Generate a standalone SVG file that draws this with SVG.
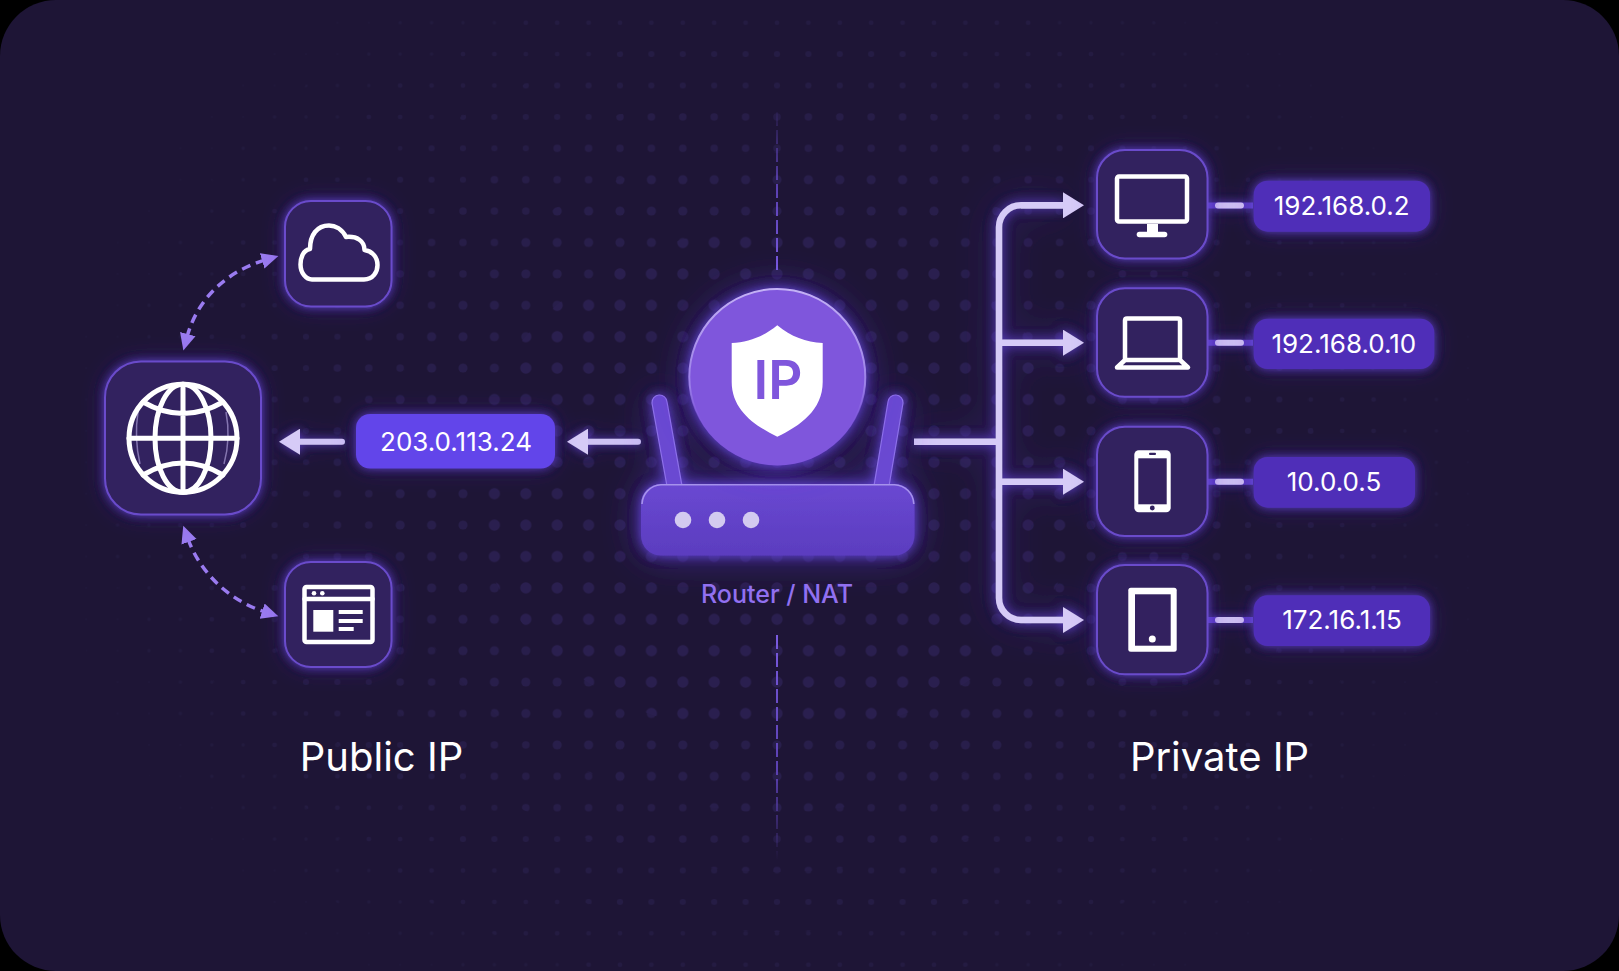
<svg xmlns="http://www.w3.org/2000/svg" width="1619" height="971" viewBox="0 0 1619 971">
<style>
.t{font-family:Inter,"Liberation Sans",sans-serif;fill:#fff;text-anchor:middle}
.ip{font-size:26px}
.sec{font-size:40px}
.card{fill:#33215f;stroke:#6a4ccb;stroke-width:2}
.pill{fill:#4f2fb8}
.ic{fill:none;stroke:#fff;stroke-width:4.5;stroke-linejoin:round;stroke-linecap:round}
.w{fill:#fff}
.bus{fill:none;stroke:#d6cbf7;stroke-width:6.5}
.shaft{fill:none;stroke:#cfc3f5;stroke-width:6;stroke-linecap:round;marker-end:url(#ah)}
.branch{fill:none;stroke:#d6cbf7;stroke-width:6.5;marker-end:url(#ah)}
.dash{fill:none;stroke:#9a7bf0;stroke-width:3.5;stroke-dasharray:9 6;marker-start:url(#dh);marker-end:url(#dh)}
.stub{stroke:#5a3dbd;stroke-width:6}
.stubt{stroke:#cdbff2;stroke-width:6;stroke-linecap:round}
</style>
<defs>
<filter id="g1" filterUnits="userSpaceOnUse" x="0" y="0" width="1619" height="971"><feGaussianBlur in="SourceAlpha" stdDeviation="4" result="a"/><feGaussianBlur in="SourceAlpha" stdDeviation="11" result="b"/><feFlood flood-color="#6f4cf0" flood-opacity=".65"/><feComposite in2="a" operator="in" result="c"/><feFlood flood-color="#5a3bd8" flood-opacity=".35"/><feComposite in2="b" operator="in" result="d"/><feMerge><feMergeNode in="d"/><feMergeNode in="c"/><feMergeNode in="SourceGraphic"/></feMerge></filter>
<filter id="g2" filterUnits="userSpaceOnUse" x="0" y="0" width="1619" height="971"><feGaussianBlur in="SourceAlpha" stdDeviation="6" result="a"/><feGaussianBlur in="SourceAlpha" stdDeviation="18" result="b"/><feFlood flood-color="#6f4cf0" flood-opacity=".85"/><feComposite in2="a" operator="in" result="c"/><feFlood flood-color="#5a3bd8" flood-opacity=".6"/><feComposite in2="b" operator="in" result="d"/><feMerge><feMergeNode in="d"/><feMergeNode in="c"/><feMergeNode in="SourceGraphic"/></feMerge></filter>
<marker id="ah" markerUnits="userSpaceOnUse" markerWidth="22" markerHeight="26" viewBox="0 0 22 26" refX="2" refY="13" orient="auto"><path d="M0 0L21 13L0 26Z" fill="#d6cbf7"/></marker>
<marker id="dh" markerUnits="userSpaceOnUse" markerWidth="18" markerHeight="18" viewBox="0 0 18 18" refX="3" refY="9" orient="auto-start-reverse"><path d="M0 1L17 9L0 17Z" fill="#9a7bf0"/></marker>
<pattern id="d1" patternUnits="userSpaceOnUse" x="761.3" y="7" width="31.4" height="31.4"><circle cx="15.7" cy="15.7" r="1" fill="#20183a"/></pattern>
<pattern id="d2" patternUnits="userSpaceOnUse" x="761.3" y="7" width="31.4" height="31.4"><circle cx="15.7" cy="15.7" r="1.6" fill="#221a3e"/></pattern>
<pattern id="d3" patternUnits="userSpaceOnUse" x="761.3" y="7" width="31.4" height="31.4"><circle cx="15.7" cy="15.7" r="2.3" fill="#241b42"/></pattern>
<pattern id="d4" patternUnits="userSpaceOnUse" x="761.3" y="7" width="31.4" height="31.4"><circle cx="15.7" cy="15.7" r="3" fill="#251c45"/></pattern>
<pattern id="d5" patternUnits="userSpaceOnUse" x="761.3" y="7" width="31.4" height="31.4"><circle cx="15.7" cy="15.7" r="3.7" fill="#271d48"/></pattern>
<pattern id="d6" patternUnits="userSpaceOnUse" x="761.3" y="7" width="31.4" height="31.4"><circle cx="15.7" cy="15.7" r="4.5" fill="#281e4b"/></pattern>
<pattern id="d7" patternUnits="userSpaceOnUse" x="761.3" y="7" width="31.4" height="31.4"><circle cx="15.7" cy="15.7" r="5.6" fill="#2a1f4f"/></pattern>
<linearGradient id="vt" gradientUnits="userSpaceOnUse" x1="0" y1="105" x2="0" y2="272"><stop offset="0" stop-color="#6a4bd0" stop-opacity="0"/><stop offset=".5" stop-color="#6a4bd0" stop-opacity=".8"/><stop offset="1" stop-color="#7a5be0"/></linearGradient>
<linearGradient id="vb" gradientUnits="userSpaceOnUse" x1="0" y1="635" x2="0" y2="860"><stop offset="0" stop-color="#7a5be0"/><stop offset=".6" stop-color="#6a4bd0" stop-opacity=".8"/><stop offset="1" stop-color="#6a4bd0" stop-opacity="0"/></linearGradient>
<linearGradient id="rb" x1="0" y1="0" x2="0" y2="1"><stop offset="0" stop-color="#6a48d2"/><stop offset="1" stop-color="#5b3dbf"/></linearGradient>
<linearGradient id="rim" x1="0" y1="0" x2="0" y2="1"><stop offset="0" stop-color="#c4b2f5"/><stop offset=".55" stop-color="#a48cec" stop-opacity=".8"/><stop offset=".8" stop-color="#7f56dc" stop-opacity="0"/></linearGradient>
<clipPath id="c1"><ellipse cx="777" cy="482" rx="720" ry="600"/></clipPath>
<clipPath id="c2"><ellipse cx="777" cy="482" rx="670" ry="558"/></clipPath>
<clipPath id="c3"><ellipse cx="777" cy="482" rx="612" ry="510"/></clipPath>
<clipPath id="c4"><ellipse cx="777" cy="482" rx="540" ry="450"/></clipPath>
<clipPath id="c5"><ellipse cx="777" cy="482" rx="468" ry="390"/></clipPath>
<clipPath id="c6"><ellipse cx="777" cy="482" rx="396" ry="330"/></clipPath>
<clipPath id="c7"><ellipse cx="777" cy="482" rx="306" ry="255"/></clipPath>
<clipPath id="page"><rect width="1619" height="971" rx="56"/></clipPath>
</defs>
<rect width="1619" height="971" fill="#000"/>
<rect id="panel" width="1619" height="971" rx="56" fill="#1e1536"/>
<g id="dots" clip-path="url(#page)">
<rect width="1619" height="971" fill="url(#d1)" clip-path="url(#c1)"/>
<rect width="1619" height="971" fill="url(#d2)" clip-path="url(#c2)"/>
<rect width="1619" height="971" fill="url(#d3)" clip-path="url(#c3)"/>
<rect width="1619" height="971" fill="url(#d4)" clip-path="url(#c4)"/>
<rect width="1619" height="971" fill="url(#d5)" clip-path="url(#c5)"/>
<rect width="1619" height="971" fill="url(#d6)" clip-path="url(#c6)"/>
<rect width="1619" height="971" fill="url(#d7)" clip-path="url(#c7)"/>
</g>
<g id="divider" fill="none" stroke-width="2" stroke-dasharray="14 4">
<path d="M777 112V272" stroke="url(#vt)"/>
<path d="M777 635V860" stroke="url(#vb)"/>
</g>
<g id="connectors">
<g filter="url(#g2)">
<path class="bus" d="M914 441.7H999"/>
<path class="bus" d="M1065 205.3H1021A22 22 0 0 0 999 227.3V598A22 22 0 0 0 1021 620H1065" style="marker-end:url(#ah)"/>
<path class="branch" d="M999 342.7H1065"/>
<path class="branch" d="M999 481.7H1065"/>
</g>
<g filter="url(#g1)">
<path class="shaft" d="M342 441.7H298"/>
<path class="shaft" d="M638 441.7H586"/>
</g>
<path d="M1021 205.3H1065" class="branch"/>
<path class="dash" d="M187 337C197 300 225 272 265 260"/>
<path class="dash" d="M188 539C200 572 228 600 265 612"/>
<g filter="url(#g1)">
<path class="stub" d="M1208 205.5H1253M1208 342.7H1253M1208 481.7H1253M1208 620H1253"/>
<path class="stubt" d="M1218 205.5H1241M1218 342.7H1241M1218 481.7H1241M1218 620H1241"/>
</g>
</g>
<g id="cloud-node"><rect class="card" x="285" y="201" width="106.5" height="105.5" rx="26" filter="url(#g1)"/>
<path class="ic" d="M312 279.5H364C373 279.5 377.5 272 377.5 265C377.5 257 372 251 364.5 250C364.5 241 357 236 346 237C342 229 335 225.5 329 225.5C317 225.5 310 235 310 249C303 250 300.5 258 300.5 264.5C300.5 273 306 279.5 312 279.5Z"/></g>
<g id="globe-node"><rect class="card" x="105" y="361.5" width="156" height="153" rx="36" filter="url(#g1)"/>
<g fill="none" stroke="#c9b9f2" stroke-width="1.5" opacity=".55"><path d="M138 412Q134 438 140 464M226 412Q231 438 224 464"/></g>
<g class="ic" style="stroke-width:5"><circle cx="183" cy="438.3" r="54"/><ellipse cx="183" cy="438.3" rx="28" ry="54"/><path d="M183 384.3V492.3M129 438.3H237M143 402Q183 425 223 402M143 475Q183 451 223 475"/></g></g>
<g id="web-node"><rect class="card" x="285" y="562" width="106.5" height="105" rx="26" filter="url(#g1)"/>
<rect class="ic" x="304.5" y="587" width="68" height="55" rx="2" stroke-width="4"/><path class="ic" d="M304.5 599H372.5" stroke-width="3"/>
<circle class="w" cx="314" cy="593.3" r="2.3"/><circle class="w" cx="322.3" cy="593.3" r="2.3"/>
<rect class="w" x="313.3" y="610" width="20" height="21.7"/>
<rect class="w" x="338.7" y="610" width="24" height="4"/><rect class="w" x="338.7" y="619" width="24" height="4"/><rect class="w" x="338.7" y="627" width="15" height="4"/></g>
<g id="public-ip-pill"><rect x="356" y="414" width="199" height="54.5" rx="14" fill="#6244ea" filter="url(#g1)"/><text class="t ip" x="456" y="451">203.0.113.24</text></g>
<g id="router-node">
<g filter="url(#g2)">
<path d="M652 403A7.5 7.5 0 0 1 667 402L682 486H667Z" fill="#6a48d2" stroke="#8d70ea" stroke-width="1.2"/>
<path d="M888 402A7.5 7.5 0 0 1 903 403L889 486H874Z" fill="#6a48d2" stroke="#8d70ea" stroke-width="1.2"/>
<rect x="641" y="484" width="273.5" height="71.5" rx="20" fill="url(#rb)"/>
</g>
<path d="M642 504A20 20 0 0 1 661 484.7H894.5A20 20 0 0 1 913.8 504" fill="none" stroke="#a692ec" stroke-width="1.6"/>
<circle class="w" cx="683" cy="520" r="8.3" fill-opacity=".72"/><circle class="w" cx="717" cy="520" r="8.3" fill-opacity=".72"/><circle class="w" cx="751" cy="520" r="8.3" fill-opacity=".72"/>
<circle cx="777.3" cy="377" r="88.5" fill="#7f56dc" filter="url(#g2)"/>
<circle cx="777.3" cy="377" r="88" fill="none" stroke="url(#rim)" stroke-width="2"/>
<path class="w" d="M777.3 325.3C763 337 748 342 731.7 343V382C731.7 410 755 426 777.3 436.7C800 426 822.7 410 822.7 382V343C806 342 791 337 777.3 325.3Z"/>
<text class="t" x="778" y="399" font-size="53" font-weight="600" style="fill:#7f56dc">IP</text>
<text class="t" x="777" y="603" font-size="25" font-weight="500" style="fill:#9170f0">Router / NAT</text></g>
<g id="desktop-node"><rect class="card" x="1097" y="150" width="110.5" height="108.5" rx="28" filter="url(#g1)"/>
<rect class="ic" x="1117" y="176.5" width="70" height="45" rx="2" stroke-width="7"/><rect class="w" x="1147" y="224" width="11" height="9"/><rect class="w" x="1136.7" y="231.7" width="30.6" height="5.5" rx="2.7"/></g>
<g id="laptop-node"><rect class="card" x="1097" y="288.3" width="110.5" height="108.5" rx="28" filter="url(#g1)"/>
<path class="ic" d="M1125 360V320.5Q1125 318.5 1127 318.5H1178Q1180 318.5 1180 320.5V360M1125 360H1180L1188 367.5H1117Z" stroke-width="4"/></g>
<g id="phone-node"><rect class="card" x="1097" y="426.7" width="110.5" height="109.3" rx="28" filter="url(#g1)"/>
<rect class="w" x="1134.3" y="450.3" width="36.4" height="62" rx="4.5"/><rect x="1138.3" y="458.3" width="28.4" height="46" fill="#33215f"/><rect x="1149" y="452.8" width="7" height="2.2" rx="1" fill="#33215f"/><circle cx="1152.3" cy="508" r="2.4" fill="#33215f"/></g>
<g id="tablet-node"><rect class="card" x="1097" y="565" width="110.5" height="109.3" rx="28" filter="url(#g1)"/>
<rect class="w" x="1128.3" y="587.7" width="48.4" height="64" rx="2.5"/><rect x="1135" y="594.3" width="35.7" height="51.4" fill="#33215f"/><circle class="w" cx="1152.3" cy="639" r="3.5"/></g>
<g id="ip-192-168-0-2"><rect class="pill" x="1253.7" y="180.7" width="176.3" height="51" rx="14" filter="url(#g1)"/><text class="t ip" x="1341.7" y="215">192.168.0.2</text></g>
<g id="ip-192-168-0-10"><rect class="pill" x="1253.7" y="318.7" width="180.6" height="50.3" rx="14" filter="url(#g1)"/><text class="t ip" x="1343.8" y="352.7">192.168.0.10</text></g>
<g id="ip-10-0-0-5"><rect class="pill" x="1253.7" y="457" width="161.3" height="50.7" rx="14" filter="url(#g1)"/><text class="t ip" x="1334" y="491">10.0.0.5</text></g>
<g id="ip-172-16-1-15"><rect class="pill" x="1253.7" y="595.3" width="176.3" height="50.7" rx="14" filter="url(#g1)"/><text class="t ip" x="1342" y="629">172.16.1.15</text></g>
<text id="public-label" class="t sec" x="381.5" y="771">Public IP</text>
<text id="private-label" class="t sec" x="1219.5" y="771">Private IP</text>
</svg>
